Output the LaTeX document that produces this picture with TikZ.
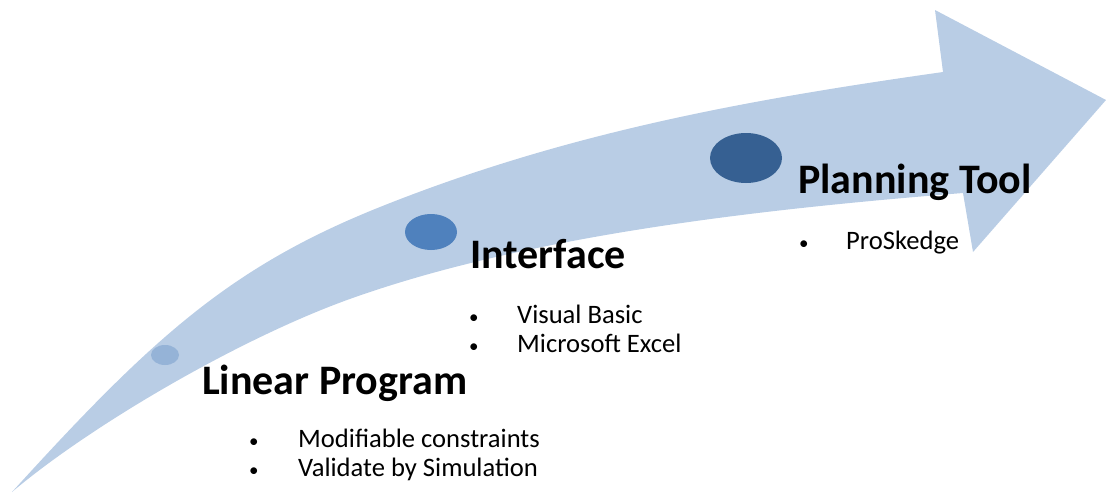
\documentclass[tikz,border=0pt]{standalone}
\usepackage{fontspec}
\setmainfont{Carlito}
\usetikzlibrary{shapes.geometric}
\definecolor{arrowblue}{HTML}{B9CDE5}
\definecolor{dotA}{HTML}{95B3D7}
\definecolor{dotB}{HTML}{4F81BD}
\definecolor{dotC}{HTML}{366092}
\tikzset{
  head/.style={anchor=base west, inner sep=0pt, font=\fontsize{42}{50}\selectfont\bfseries},
  item/.style={anchor=base west, inner sep=0pt, font=\fontsize{26.6}{31}\selectfont},
  bul/.style={anchor=base west, inner sep=0pt, font=\fontsize{19}{23}\selectfont},
  dot/.style={ellipse, inner sep=0pt, draw=none}
}
\begin{document}
\begin{tikzpicture}[x=1pt,y=-1pt]
\useasboundingbox (0,0) rectangle (1106,493);
\fill[arrowblue] (12,492) .. controls (152,338) and (230,267) .. (380,207)
  .. controls (570,131) and (753,99) .. (943,72)
  -- (935,10) -- (1106,100) -- (973,252) -- (963,193)
  .. controls (763,209) and (527,235) .. (347,300)
  .. controls (237,340) and (90,426) .. (12,492) -- cycle;
\node[dot, fill=dotA, minimum width=28pt, minimum height=20pt] (d1) at (165,355) {};
\node[dot, fill=dotB, minimum width=52pt, minimum height=36pt] (d2) at (431,232) {};
\node[dot, fill=dotC, minimum width=72pt, minimum height=50pt] (d3) at (746,158) {};
\node[head] (lp) at (202,394) {Linear Program};
\node[bul] (b1) at (249,447) {•};
\node[item] (t1) at (298,447) {Modifiable constraints};
\node[bul] (b2) at (249,476) {•};
\node[item] (t2) at (298,476) {Validate by Simulation};
\node[head] (if) at (470,268) {Interface};
\node[bul] (b3) at (469,323) {•};
\node[item] (t3) at (517,323) {Visual Basic};
\node[bul] (b4) at (469,352) {•};
\node[item] (t4) at (517,352) {Microsoft Excel};
\node[head] (pt) at (798,193) {Planning Tool};
\node[bul] (b5) at (799,249) {•};
\node[item] (t5) at (846,249) {ProSkedge};
\end{tikzpicture}
\end{document}
